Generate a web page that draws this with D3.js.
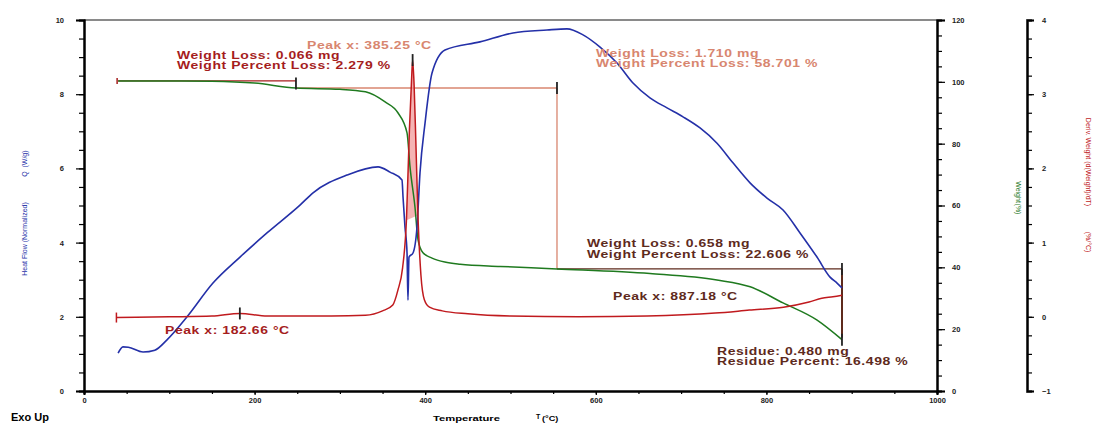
<!DOCTYPE html>
<html>
<head>
<meta charset="utf-8">
<script src="https://cdn.jsdelivr.net/npm/d3@7"></script>
<style>
  body { margin: 0; background: #fff; }
  svg { display: block; font-family: "Liberation Sans", Arial, sans-serif; }
  .tick text { font-size: 7.5px; font-weight: bold; fill: #222; }
  .note { font-size: 10px; font-weight: bold; letter-spacing: 0.4px; }
</style>
</head>
<body>
<div id="chart"></div>
<script>
(function () {
  "use strict";

  // temperature (°C) / heat flow (W/g)
  var heatT  = [40, 45.7, 52, 69.2, 83, 97.3, 120.8, 151.2, 182.9, 214.5, 253.2, 268.5, 308.3, 344.7, 358.7, 372.8, 374, 376.3, 378.7, 379.8, 381, 385.7, 390.4, 393.9, 399.8, 408, 423.2, 464.2, 502.9, 542.8, 566.2, 585, 605, 624.9, 643.6, 663.5, 683.5, 702.2, 722.2, 742.1, 760.8, 780.8, 800.7, 819.5, 839.4, 859.3, 874.6, 882.8, 888.6];
  var heatQ  = [1.02, 1.19, 1.18, 1.05, 1.1, 1.38, 2.0, 2.91, 3.61, 4.26, 5.01, 5.34, 5.82, 6.04, 5.90, 5.69, 5.23, 4.42, 3.72, 2.45, 3.61, 3.72, 4.42, 5.88, 7.22, 8.57, 9.19, 9.41, 9.65, 9.73, 9.76, 9.60, 9.27, 8.84, 8.30, 7.90, 7.63, 7.39, 7.09, 6.68, 6.15, 5.61, 5.20, 4.88, 4.26, 3.61, 3.07, 2.91, 2.78];

  // temperature (°C) / weight (%)
  var weightT = [40, 100, 150, 200, 248.5, 300, 330, 353, 368, 378.7, 382.2, 388, 391.6, 397.4, 408, 423, 441, 488, 554.5, 663.5, 742, 781, 819.5, 859, 888.6];
  var weightW = [100.3, 100.3, 100.2, 99.6, 98.0, 97.6, 96.8, 93.5, 90.0, 83.5, 72.5, 59.5, 48.9, 44.7, 43.0, 41.7, 41.0, 40.3, 39.5, 38.0, 35.9, 33.7, 28.5, 23.0, 16.6];

  // temperature (°C) / deriv. weight (%/°C)
  var derivT = [38, 100, 150, 182.7, 215, 290, 330, 350, 362, 368, 373.5, 378, 381.5, 384, 385.25, 387, 389, 391.5, 395, 399, 405, 420, 450, 500, 580, 660, 740, 780, 820, 850, 865, 878, 888.6];
  var derivD = [-0.01, 0.0, 0.01, 0.045, 0.01, 0.01, 0.02, 0.08, 0.16, 0.36, 0.66, 1.30, 2.52, 3.19, 3.46, 3.12, 2.38, 1.37, 0.56, 0.23, 0.13, 0.08, 0.04, 0.01, 0.0, 0.01, 0.05, 0.09, 0.13, 0.20, 0.25, 0.27, 0.29];

  // weight-loss steps: temperature and weight level at each marker
  var stepT = [40, 248.5, 554.5, 888.6];
  var stepW = [100.3, 98.0, 39.5, 16.6];

  var xTicks = [0, 200, 400, 600, 800, 1000];
  var qTicks = [0, 2, 4, 6, 8, 10];
  var wTicks = [0, 20, 40, 60, 80, 100, 120];
  var dTicks = [-1, 0, 1, 2, 3, 4];

  var blue = "#2430a8", green = "#1f7a1f", red = "#c01a1e",
      salmon = "#d8866f", brown = "#5e2a1c", darkRed = "#a51d1d";

  var svg = d3.select("#chart").append("svg")
      .attr("width", 1094)
      .attr("height", 423);

  var x = d3.scaleLinear().domain([0, 1000]).range([84, 937]);
  var yQ = d3.scaleLinear().domain([0, 10]).range([391, 20]);
  var yW = d3.scaleLinear().domain([0, 120]).range([391, 20]);
  var yD = d3.scaleLinear().domain([-1, 4]).range([391, 20]);

  function minor(lo, hi, step) { return d3.range(lo, hi + step / 2, step); }

  // top frame line
  svg.append("line")
      .attr("x1", x(0)).attr("x2", x(1000))
      .attr("y1", yQ(10)).attr("y2", yQ(10))
      .attr("stroke", "#8a8a8a").attr("stroke-width", 2);

  // left axis
  svg.append("g").attr("transform", "translate(" + x(0) + ",0)")
      .call(d3.axisLeft(yQ).tickValues(minor(0, 10, 0.5)).tickSize(5).tickFormat(""));
  svg.append("g").attr("transform", "translate(" + x(0) + ",0)")
      .call(d3.axisLeft(yQ).tickValues(qTicks).tickSize(8).tickPadding(12).tickFormat(d3.format("d")));

  // bottom axis
  svg.append("g").attr("transform", "translate(0," + yQ(0) + ")")
      .call(d3.axisBottom(x).tickValues(minor(0, 1000, 50)).tickSize(3).tickFormat(""));
  svg.append("g").attr("transform", "translate(0," + yQ(0) + ")")
      .call(d3.axisBottom(x).tickValues(xTicks).tickSize(4).tickPadding(3).tickFormat(d3.format("d")));

  // weight axis
  svg.append("g").attr("transform", "translate(" + x(1000) + ",0)")
      .call(d3.axisRight(yW).tickValues(minor(0, 120, 5)).tickSize(5).tickFormat(""));
  svg.append("g").attr("transform", "translate(" + x(1000) + ",0)")
      .call(d3.axisRight(yW).tickValues(wTicks).tickSize(8).tickPadding(7).tickFormat(d3.format("d")));

  // deriv. weight axis
  var dAxis = svg.append("g").attr("transform", "translate(1027,0)")
      .call(d3.axisRight(yD).tickValues(minor(-1, 4, 0.25)).tickSize(5).tickFormat(""));
  svg.append("g").attr("transform", "translate(1027,0)")
      .call(d3.axisRight(yD).tickValues(dTicks).tickSize(7).tickPadding(8).tickFormat(d3.format("d")));

  svg.selectAll(".domain").attr("stroke-width", 2);
  svg.selectAll(".tick line").attr("stroke-width", 1.2);
  dAxis.select(".domain").attr("stroke", "#7a7a7a").attr("stroke-width", 3);

  // weight step annotation lines
  var stepColors = [darkRed, salmon, brown];
  stepColors.forEach(function (c, i) {
    svg.append("line")
        .attr("x1", x(stepT[i])).attr("x2", x(stepT[i + 1]))
        .attr("y1", yW(stepW[i])).attr("y2", yW(stepW[i]))
        .attr("stroke", c).attr("stroke-width", 1.3);
    if (i > 0) {
      svg.append("line")
          .attr("x1", x(stepT[i + 1])).attr("x2", x(stepT[i + 1]))
          .attr("y1", yW(stepW[i])).attr("y2", yW(stepW[i + 1]) + (i === 2 ? -2 : 0))
          .attr("stroke", c).attr("stroke-width", i === 2 ? 2 : 1.3);
    }
  });
  // little start mark on the first step
  svg.append("line")
      .attr("x1", x(stepT[0]) - 1).attr("x2", x(stepT[0]) - 1)
      .attr("y1", yW(stepW[0]) - 3).attr("y2", yW(stepW[0]) + 3)
      .attr("stroke", darkRed).attr("stroke-width", 1.5);

  // curves
  var lineQ = d3.line().x(function (d, i) { return x(heatT[i]); })
      .y(function (d) { return yQ(d); }).curve(d3.curveMonotoneX);
  var lineW = d3.line().x(function (d, i) { return x(weightT[i]); })
      .y(function (d) { return yW(d); }).curve(d3.curveMonotoneX);
  var lineD = d3.line().x(function (d) { return x(d[0]); })
      .y(function (d) { return yD(d[1]); }).curve(d3.curveMonotoneX);

  var derivPts = derivT.map(function (t, i) { return [t, derivD[i]]; });
  var peakPts = derivPts.filter(function (d) { return d[0] >= 376 && d[0] <= 394; });

  svg.append("path").attr("d", lineD(peakPts))
      .attr("fill", "#f29a9a").attr("fill-opacity", 0.75).attr("stroke", "none");

  svg.append("path").attr("d", lineW(weightW))
      .attr("fill", "none").attr("stroke", green).attr("stroke-width", 1.5);
  svg.append("path").attr("d", lineQ(heatQ))
      .attr("fill", "none").attr("stroke", blue).attr("stroke-width", 1.6);
  svg.append("path").attr("d", lineD(derivPts))
      .attr("fill", "none").attr("stroke", red).attr("stroke-width", 1.5);

  // start mark of the deriv. curve
  svg.append("line")
      .attr("x1", x(derivT[0])).attr("x2", x(derivT[0]))
      .attr("y1", yD(derivD[0]) - 5).attr("y2", yD(derivD[0]) + 5)
      .attr("stroke", red).attr("stroke-width", 1.5);

  // black marker ticks: [temperature, value, scale]
  var marks = [
    [stepT[1], stepW[1] + 1.5, yW], [stepT[2], stepW[1], yW], [stepT[3], stepW[2], yW],
    [stepT[3], stepW[3], yW], [182.7, 0.045, yD], [385.25, 3.46, yD]
  ];
  marks.forEach(function (m) {
    svg.append("line")
        .attr("x1", x(m[0])).attr("x2", x(m[0]))
        .attr("y1", m[2](m[1]) - 6).attr("y2", m[2](m[1]) + 6)
        .attr("stroke", "#222").attr("stroke-width", 1.8);
  });

  // annotation texts
  var notes = [
    ["Weight Loss: 0.066 mg", 177, 59, darkRed],
    ["Weight Percent Loss: 2.279 %", 177, 69, darkRed],
    ["Peak x: 385.25 °C", 307, 49, salmon],
    ["Weight Loss: 1.710 mg", 596, 57, salmon],
    ["Weight Percent Loss: 58.701 %", 596, 67, salmon],
    ["Weight Loss: 0.658 mg", 587, 247, brown],
    ["Weight Percent Loss: 22.606 %", 587, 258, brown],
    ["Peak x: 887.18 °C", 613, 300, brown],
    ["Residue: 0.480 mg", 717, 355, brown],
    ["Residue Percent: 16.498 %", 717, 365, brown],
    ["Peak x: 182.66 °C", 165, 334, darkRed]
  ];
  svg.selectAll("text.note").data(notes).enter().append("text")
      .attr("class", "note")
      .attr("transform", function (d) { return "translate(" + d[1] + "," + d[2] + ") scale(1.4,1)"; })
      .attr("fill", function (d) { return d[3]; })
      .text(function (d) { return d[0]; });

  // axis titles
  function vtext(s, cx, cy, rot, color, size) {
    svg.append("text")
        .attr("transform", "translate(" + cx + "," + cy + ") rotate(" + rot + ")")
        .attr("text-anchor", "middle")
        .attr("fill", color)
        .style("font-size", (size || 7) + "px")
        .text(s);
  }
  vtext("Heat Flow (Normalized)", 27, 239, -90, blue);
  vtext("Q", 27, 174, -90, blue);
  vtext("(W/g)", 27, 159, -90, blue);
  vtext("Weight", 1016, 192, 90, green);
  vtext("(%)", 1016, 209, 90, green);
  vtext("Deriv. Weight (d(Weight)/dT)", 1086, 162, 90, red);
  vtext("(%/°C)", 1086, 242, 90, red);

  svg.append("text").attr("transform", "translate(433,421) scale(1.4,1)")
      .style("font-size", "8px").style("font-weight", "bold").text("Temperature");
  svg.append("text").attr("x", 536).attr("y", 419)
      .style("font-size", "7px").style("font-weight", "bold").text("T");
  svg.append("text").attr("transform", "translate(542,421) scale(1.3,1)")
      .style("font-size", "7px").style("font-weight", "bold").text("(°C)");
  svg.append("text").attr("x", 11).attr("y", 421)
      .style("font-size", "11px").style("font-weight", "bold").text("Exo Up");
}());
</script>
</body>
</html>
